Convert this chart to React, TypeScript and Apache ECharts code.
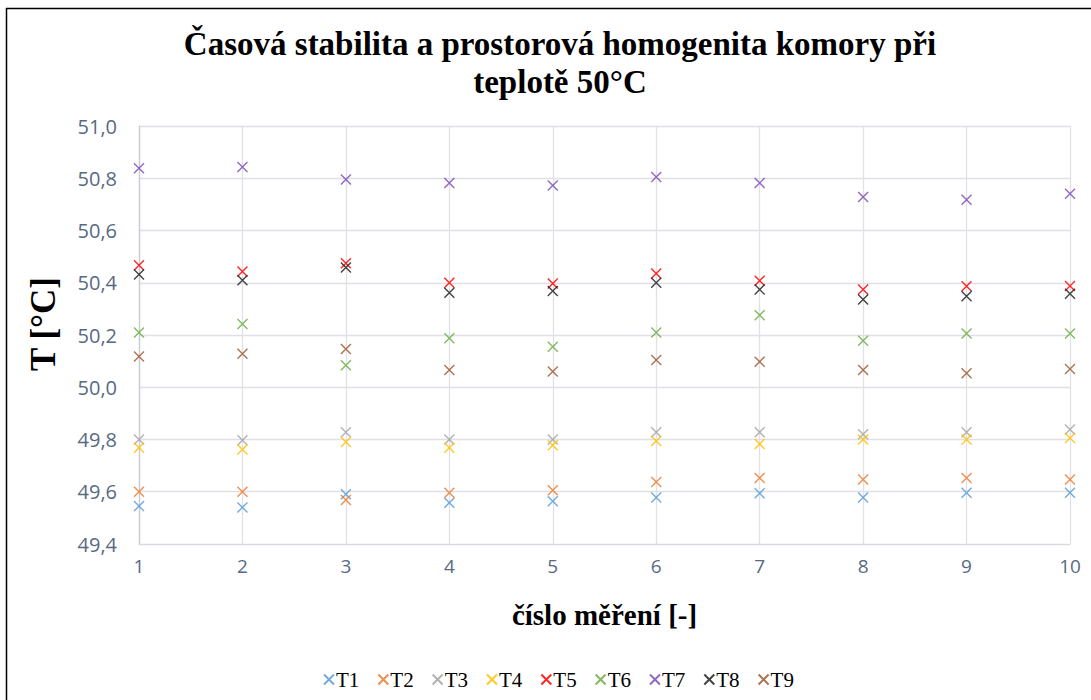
import React, { useEffect, useRef } from "react";
import * as echarts from "echarts";

const measurements = [1, 2, 3, 4, 5, 6, 7, 8, 9, 10];
const seriesNames = ["T1", "T2", "T3", "T4", "T5", "T6", "T7", "T8", "T9"];
const T1 = [49.545, 49.54, 49.59, 49.558, 49.564, 49.578, 49.594, 49.578, 49.596, 49.596];
const T2 = [49.6, 49.6, 49.568, 49.596, 49.606, 49.637, 49.653, 49.647, 49.653, 49.647];
const T3 = [49.8, 49.797, 49.828, 49.8, 49.8, 49.828, 49.828, 49.82, 49.828, 49.838];
const T4 = [49.768, 49.762, 49.79, 49.768, 49.778, 49.794, 49.783, 49.8, 49.8, 49.806];
const T5 = [50.467, 50.443, 50.475, 50.4, 50.397, 50.435, 50.408, 50.374, 50.387, 50.388];
const T6 = [50.21, 50.242, 50.084, 50.188, 50.155, 50.21, 50.276, 50.178, 50.206, 50.206];
const T7 = [50.838, 50.843, 50.795, 50.782, 50.772, 50.805, 50.782, 50.728, 50.718, 50.741];
const T8 = [50.432, 50.41, 50.458, 50.362, 50.368, 50.4, 50.374, 50.336, 50.348, 50.358];
const T9 = [50.118, 50.128, 50.146, 50.066, 50.06, 50.104, 50.098, 50.066, 50.054, 50.07];
const seriesValues = [T1, T2, T3, T4, T5, T6, T7, T8, T9];
const seriesColors = ["#5B9BD5", "#ED7D31", "#A5A5A5", "#FFC000", "#FF0000", "#70AD47", "#7E4FB8", "#222222", "#9E5A33"];

const CROSS = "path://M0,0L10,10M10,0L0,10";

export default function App() {
  const ref = useRef<HTMLDivElement>(null);
  useEffect(() => {
    if (!ref.current) return;
    const chart = echarts.init(ref.current, undefined, { renderer: "svg" });
    const serif = "'Liberation Serif', 'Times New Roman', serif";
    const sans = "'Open Sans', 'Noto Sans', sans-serif";
    chart.setOption({
      animation: false,
      backgroundColor: "#ffffff",
      title: {
        text: "Časová stabilita a prostorová homogenita komory při\nteplotě 50°C",
        left: 555,
        textAlign: "center",
        top: 20,
        textStyle: { fontFamily: serif, fontWeight: "bold", fontSize: 33, lineHeight: 38, color: "#000" },
      },
      graphic: [
        {
          type: "rect",
          shape: { x: 6.5, y: 8.5, width: 1100, height: 720 },
          style: { fill: "none", stroke: "#000", lineWidth: 1.5 },
          silent: true,
        },
      ],
      grid: { left: 139, right: 21, top: 126, bottom: 156 },
      legend: {
        top: 664,
        left: 318,
        itemWidth: 10,
        itemHeight: 10,
        itemGap: 18,
        textStyle: { fontFamily: serif, fontSize: 21, color: "#000", padding: [0, 0, 0, -3] },
        data: seriesNames,
      },
      xAxis: {
        type: "value",
        min: 1,
        max: 10,
        interval: 1,
        name: "číslo měření [-]",
        nameLocation: "middle",
        nameGap: 56,
        nameTextStyle: { fontFamily: serif, fontWeight: "bold", fontSize: 29, color: "#000" },
        axisLine: { show: true, lineStyle: { color: "#D9D9E0", width: 1 } },
        axisTick: { show: false },
        axisLabel: { color: "#586A82", fontFamily: sans, fontSize: 19, margin: 12 },
        splitLine: { show: true, lineStyle: { color: "#E0E0E6", width: 1.3 } },
      },
      yAxis: {
        type: "value",
        min: 49.4,
        max: 51.0,
        interval: 0.2,
        name: "T [°C]",
        nameLocation: "middle",
        nameGap: 78,
        nameTextStyle: { fontFamily: serif, fontWeight: "bold", fontSize: 35, color: "#000", padding: [0, 0, 0, 22] },
        axisLine: { show: true, lineStyle: { color: "#C8CCD8", width: 1.3 } },
        axisTick: { show: false },
        axisLabel: {
          color: "#586A82",
          fontFamily: sans,
          fontSize: 20,
          margin: 22,
          formatter: (v: number) => v.toFixed(1).replace(".", ","),
        },
        splitLine: { show: true, lineStyle: { color: "#E0E0E6", width: 1.3 } },
      },
      series: seriesNames.map((name, i) => ({
        name,
        type: "scatter",
        symbol: CROSS,
        symbolSize: 10,
        data: measurements.map((m, j) => [m, seriesValues[i][j]]),
        itemStyle: { color: "rgba(0,0,0,0)", borderColor: seriesColors[i], borderWidth: 1.4, opacity: 0.85 },
        emphasis: { disabled: true },
      })),
    });
    return () => chart.dispose();
  }, []);
  return (
    <div
      ref={ref}
      style={{ position: "absolute", left: 0, top: 0, width: 1091, height: 700 }}
    />
  );
}
